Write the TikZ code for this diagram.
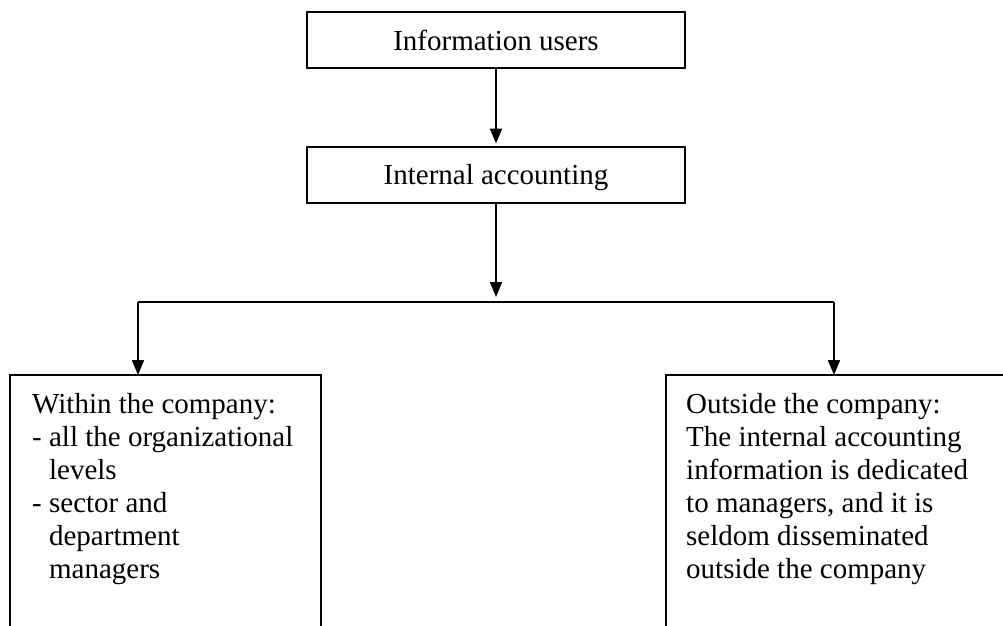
\documentclass[tikz,border=0pt]{standalone}
\usepackage{fontspec}
\setmainfont{Liberation Serif}
\usepackage{tikz}
\usetikzlibrary{arrows.meta}
\tikzset{
	box/.style={draw, line width=2pt, minimum width=378pt, minimum height=56pt, inner sep=0pt, text height=20pt, text depth=0pt},
	flow/.style={line width=2pt, -{Triangle[length=15pt, width=12pt]}},
	listtext/.style={anchor=north west, align=left, inner sep=0pt}
}

\begin{document}
\begin{tikzpicture}[x=1pt, y=-1pt, font=\fontsize{29}{33}\selectfont]
			%%%%% START %%%%%
			
			\useasboundingbox (0, 0) rectangle (1003, 625);
			
			\node[box] (users) at (496, 40) {Information users};
			\node[box] (internal) at (496, 174.5) {Internal accounting};
			
			\coordinate (split) at (496, 302);
			\coordinate (splitleft) at (138, 302);
			\coordinate (splitright) at (834, 302);
			\coordinate (withintop) at (138, 375);
			\coordinate (outsidetop) at (834, 375);
			
			\draw[flow, shorten >=2pt] (users) -- (internal);
			\draw[flow, shorten >=5pt] (internal) -- (split);
			\draw[line width=2pt] (splitleft) -- (splitright);
			\draw[flow] (splitleft) -- (withintop);
			\draw[flow] (splitright) -- (outsidetop);
			
			% open boxes, cut at the bottom
			\draw[line width=2pt] (10, 627) -- (10, 375) -- (321, 375) -- (321, 627);
			\draw[line width=2pt] (666, 627) -- (666, 375) -- (1008, 375);
			
			\node[listtext] (within) at (32, 393) {Within the company:\\
				- all the organizational\\
				\phantom{- }levels\\
				- sector and\\
				\phantom{- }department\\
				\phantom{- }managers};
			
			\node[listtext] (outside) at (686, 393) {Outside the company:\\
				The internal accounting\\
				information is dedicated\\
				to managers, and it is\\
				seldom disseminated\\
				outside the company};
			
			%%%%% END %%%%%
\end{tikzpicture}
\end{document}
